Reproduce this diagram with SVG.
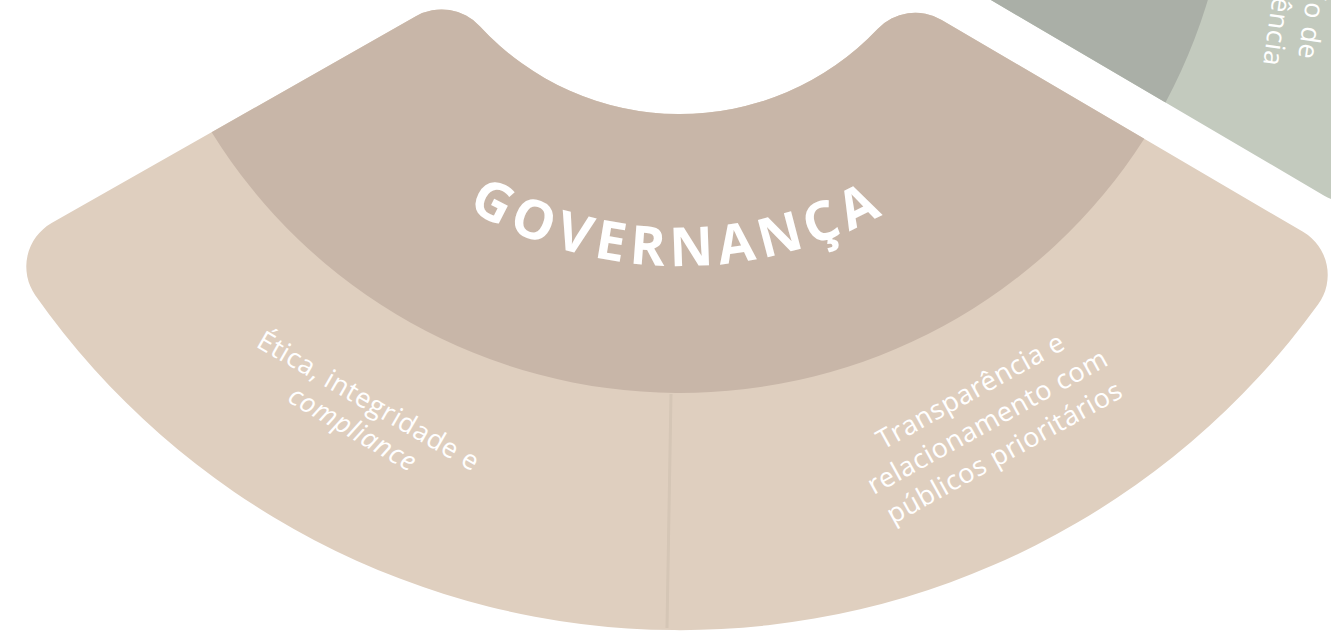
<svg xmlns="http://www.w3.org/2000/svg" width="1331" height="635" viewBox="0 0 1331 635">
  <defs>
    <style>
      .label { font-family: "Open Sans", "Liberation Sans", sans-serif; font-size: 27px; font-weight: 400; fill: #ffffff; text-anchor: middle; letter-spacing: 0.6px; }
      .title { font-family: "Open Sans", "Liberation Sans", sans-serif; font-size: 54px; font-weight: 700; fill: #ffffff; letter-spacing: 6px; }
    </style>
    <path id="fullSector" d="M -262.9 176.1 A 52 52 0 0 1 -198.9 185.6 A 272 272 0 0 0 198.9 185.6 A 52 52 0 0 1 262.9 176.1 L 625.7 385.5 A 50 50 0 0 1 641.4 457.9 A 788 788 0 0 1 -641.4 457.9 A 50 50 0 0 1 -625.7 385.5 Z"/>
    <path id="innerBand" d="M -466.3 293.5 L -262.9 176.1 A 52 52 0 0 1 -198.9 185.6 A 272 272 0 0 0 198.9 185.6 A 52 52 0 0 1 262.9 176.1 L 466.3 293.5 A 551 551 0 0 1 -466.3 293.5 Z"/>
    <path id="titleArc" d="M -424 0 A 424 424 0 0 0 424 0"/>
  </defs>
  <rect width="1331" height="635" fill="#ffffff"/>

  <g transform="translate(680,-158) rotate(0.4)">
    <g id="sector-next" transform="rotate(-120)">
      <use href="#fullSector" fill="#c3cabe"/>
      <use href="#innerBand" fill="#aaafa7"/>
    </g>
    <g id="sector-governanca">
      <use href="#fullSector" fill="#dfcfbf"/>
      <use href="#innerBand" fill="#c8b6a8"/>
      <text class="title"><textPath href="#titleArc" startOffset="50%" text-anchor="middle">GOVERNANÇA</textPath></text>
    </g>
  </g>

  <g id="connectors">
    <line x1="671" y1="394" x2="667" y2="628" stroke="#d5c6b6" stroke-width="3"/>
  </g>

  <g id="node-etica" transform="translate(364,409) rotate(30)">
    <text class="label" x="0" y="0">Ética, integridade e</text>
    <text class="label" x="0" y="32" font-style="italic">compliance</text>
  </g>

  <g id="node-transparencia" transform="translate(975,399) rotate(-29)">
    <text class="label" x="0" y="0">Transparência e</text>
    <text class="label" x="0" y="35">relacionamento com</text>
    <text class="label" x="0" y="70">públicos prioritários</text>
  </g>

  <g id="node-next-label" transform="translate(1298,58) rotate(98)">
    <text class="label" x="0" y="0" style="text-anchor:end">ão de</text>
    <text class="label" x="11.8" y="33.7" style="text-anchor:end">ência</text>
  </g>
</svg>
